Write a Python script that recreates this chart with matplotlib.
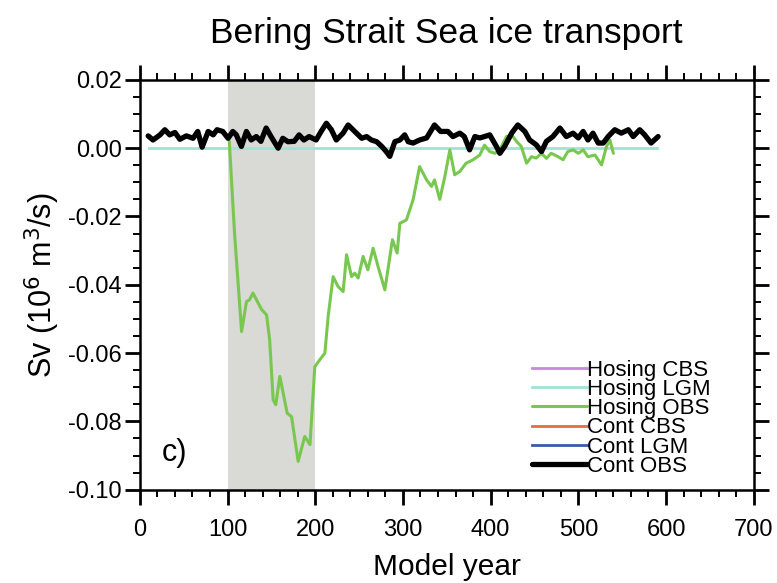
import matplotlib
matplotlib.use("Agg")

import matplotlib.pyplot as plt
from matplotlib.ticker import MultipleLocator

plt.rcParams['font.family'] = ['Liberation Sans', 'DejaVu Sans']

# Hosing OBS run (branches off the control at year 100)
hos_obs_year = [102, 108, 116, 121.6, 125, 129, 135, 139, 144.5, 148, 152, 155,
                159.6, 163.4, 168, 173, 180.5, 188, 194, 199.5, 205, 211, 214.7,
                220.4, 226, 231.8, 235.7, 241.4, 245, 249, 254.6, 260, 266, 271.7,
                279.4, 288, 293.4, 296.5, 304, 311.6, 319, 327, 332.6, 336, 342,
                347.8, 353.5, 359, 365, 372, 380, 387.7, 393, 399, 405, 410.5, 418,
                424, 429.5, 435, 441, 446.6, 452, 458, 463.7, 469, 477, 482.6, 488,
                494, 500, 505.6, 511, 519, 526.5, 532, 536, 540]
hos_obs_sv = [0.002, -0.025, -0.0537, -0.0449, -0.0444, -0.0424, -0.0454, -0.0473,
              -0.0488, -0.056, -0.0737, -0.0751, -0.0668, -0.0717, -0.0776, -0.0786,
              -0.0917, -0.0844, -0.0868, -0.064, -0.062, -0.060, -0.0493, -0.0376,
              -0.0405, -0.042, -0.0312, -0.0376, -0.0366, -0.038, -0.0317, -0.0356,
              -0.0293, -0.0347, -0.0415, -0.0268, -0.0307, -0.022, -0.021, -0.0151,
              -0.0054, -0.0093, -0.0112, -0.0093, -0.015, -0.0083, -0.0005, -0.0078,
              -0.0068, -0.0044, -0.0034, -0.002, 0.0009, -0.001, -0.0015, -0.0005,
              0.0034, 0.0039, 0.002, 0.0005, -0.0044, -0.0025, -0.0029, -0.0015,
              -0.003, -0.0015, -0.0025, -0.0034, -0.001, -0.0005, -0.0015, -0.0005,
              -0.0025, -0.002, -0.0049, 0.0004, 0.0024, -0.0015]

# Hosing LGM run
hos_lgm_year = [10, 590]
hos_lgm_sv = [0.0, 0.0]

# Control OBS run
cont_obs_year = [9.5, 15, 23, 28.5, 34, 40, 45.6, 53, 60.7, 66, 71, 77.9, 83.6, 88,
                 94.5, 100.6, 106, 110, 115.8, 121.5, 127, 132.8, 138, 144, 149.6,
                 157.7, 163, 168.8, 176, 181.6, 187, 193, 201, 206.7, 212.7, 218.4,
                 224, 231.7, 237.5, 245, 253, 258.6, 264, 270, 275.9, 281, 285,
                 290.8, 296.5, 302, 306, 311.6, 319, 327, 336, 343, 351.3, 357,
                 364.9, 370, 376, 382, 387.7, 393, 399, 406.6, 410.5, 416, 424, 431,
                 439, 444.5, 452, 458, 463.6, 471, 479, 486.3, 494, 500, 505.5, 511,
                 516.7, 522.7, 528.4, 534, 541.6, 549, 557, 562.6, 570, 575.7, 583, 591]
cont_obs_sv = [0.0036, 0.0024, 0.0039, 0.0054, 0.0039, 0.0046, 0.0026, 0.0036, 0.0029,
               0.0049, 0.0003, 0.0049, 0.0039, 0.0054, 0.0049, 0.0029, 0.0049, 0.0039,
               0.0005, 0.0049, 0.0024, 0.0034, 0.0020, 0.0059, 0.0034, 0.0000, 0.0029,
               0.0019, 0.0020, 0.0039, 0.0024, 0.0034, 0.0024, 0.0049, 0.0073, 0.0054,
               0.0024, 0.0044, 0.0068, 0.0049, 0.0029, 0.0034, 0.0024, 0.0019, 0.0005,
               -0.0010, -0.0024, 0.0019, 0.0024, 0.0039, 0.0019, 0.0015, 0.0024, 0.0030,
               0.0068, 0.0049, 0.0049, 0.0034, 0.0044, 0.0034, -0.0005, 0.0034, 0.0030,
               0.0034, 0.0039, 0.0005, -0.0015, 0.0005, 0.0044, 0.0068, 0.0049, 0.0024,
               0.0010, -0.0010, 0.0020, 0.0034, 0.0059, 0.0034, 0.0044, 0.0030, 0.0049,
               0.0024, 0.0044, 0.0015, 0.0015, 0.0034, 0.0054, 0.0044, 0.0054, 0.0034,
               0.0054, 0.0039, 0.0015, 0.0034]

# runs with no visible trace in this panel
hos_cbs_year, hos_cbs_sv = [], []
cont_cbs_year, cont_cbs_sv = [], []
cont_lgm_year, cont_lgm_sv = [], []

hosing_period = (100, 200)

fig = plt.figure(figsize=(7.77, 5.83), dpi=100)
ax = fig.add_axes([0.180, 0.160, 0.790, 0.703])

ax.axvspan(*hosing_period, color="#d9d9d5", lw=0, zorder=0)

rnd = dict(solid_capstyle="round", solid_joinstyle="round")
ax.plot(hos_cbs_year, hos_cbs_sv, color="#c68ad8", lw=2, label="Hosing CBS")
ax.plot(hos_lgm_year, hos_lgm_sv, color="#9fe3d4", lw=2, label="Hosing LGM", zorder=2)
ax.plot(hos_obs_year, hos_obs_sv, color="#78c850", lw=2.2, label="Hosing OBS",
        zorder=3, **rnd)
ax.plot(cont_cbs_year, cont_cbs_sv, color="#e0703c", lw=2, label="Cont CBS")
ax.plot(cont_lgm_year, cont_lgm_sv, color="#3a5aa8", lw=2, label="Cont LGM")
ax.plot(cont_obs_year, cont_obs_sv, color="black", lw=3.8, label="Cont OBS",
        zorder=4, **rnd)

ax.set_xlim(0, 700)
ax.set_ylim(-0.10, 0.02)
ax.xaxis.set_major_locator(MultipleLocator(100))
ax.xaxis.set_minor_locator(MultipleLocator(20))
ax.yaxis.set_major_locator(MultipleLocator(0.02))
ax.yaxis.set_minor_locator(MultipleLocator(0.005))
ax.yaxis.set_major_formatter(plt.FuncFormatter(lambda v, p: f"{v:.2f}".replace("-0.00", "0.00")))

for s in ax.spines.values():
    s.set_linewidth(1.8)
ax.tick_params(which="both", direction="out", top=True, right=True,
               labelsize=17, width=1.4)
ax.tick_params(which="major", length=11, width=2)
ax.tick_params(which="minor", length=5)
ax.tick_params(axis="x", which="major", pad=10)
ax.tick_params(axis="y", which="major", pad=2)

ax.set_xlabel("Model year", fontsize=21.5, labelpad=9)
ax.set_ylabel(r"Sv (10$^6$ m$^3$/s)", fontsize=22, labelpad=4)
fig.text(0.574, 0.943, "Bering Strait Sea ice transport", fontsize=25.5,
         ha="center", va="center")
ax.text(0.035, 0.09, "c)", transform=ax.transAxes, fontsize=22, va="center")

handles, labels = ax.get_legend_handles_labels()
leg = ax.legend(handles, labels, loc="lower right", bbox_to_anchor=(0.945, 0.01),
                frameon=False, fontsize=16, handlelength=2.5, handletextpad=0.0,
                labelspacing=-0.08, borderaxespad=0)

fig.savefig("out.png", dpi=100, facecolor="white")
